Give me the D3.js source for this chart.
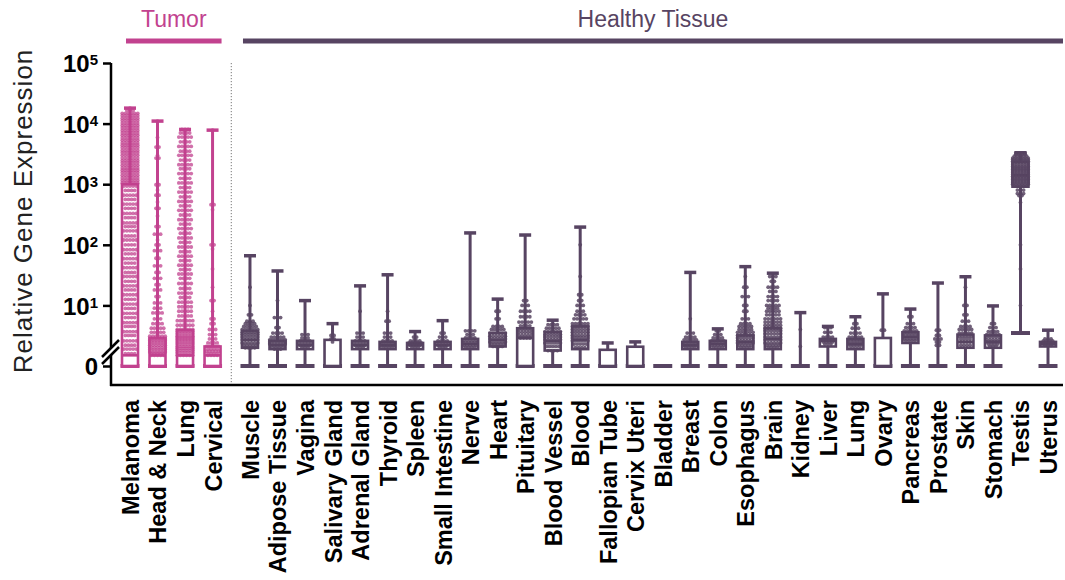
<!DOCTYPE html>
<html><head><meta charset="utf-8">
<script src="https://cdn.jsdelivr.net/npm/d3@7"></script>
<style>
body{margin:0;background:#fff}
svg{display:block}
text{font-family:"Liberation Sans",Arial,Helvetica,sans-serif}
</style>
</head><body>
<svg id="chart" width="1065" height="580"></svg>
<script>
// ---------------- DATA ----------------
const categories = ["Melanoma","Head & Neck","Lung","Cervical",
  "Muscle","Adipose Tissue","Vagina","Salivary Gland","Adrenal Gland","Thyroid","Spleen","Small Intestine",
  "Nerve","Heart","Pituitary","Blood Vessel","Blood","Fallopian Tube","Cervix Uteri","Bladder","Breast",
  "Colon","Esophagus","Brain","Kidney","Liver","Lung","Ovary","Pancreas","Prostate","Skin","Stomach","Testis","Uterus"];
const groupNames = ["Tumor","Healthy Tissue"];
const groupOf = [0,0,0,0, 1,1,1,1,1,1,1,1,1,1,1,1,1,1,1,1,1,1,1,1,1,1,1,1,1,1,1,1,1,1];

const whiskerMin = [0,0,0,0, 0,0,0,0,0,0,0,0,0,0,0,0,0,0,0,0,0,0,0,0,0,0,0,0,0,0,0,0,3.5,0];
const q1Values   = [0,0,0,0, 2.0,1.9,1.9,0,1.9,1.9,1.9,1.9,1.9,2.1,0,1.8,1.9,0,0,0,1.9,1.9,1.9,1.9,0,2.1,1.9,0,2.4,0,2.0,2.0,910,2.1];
const medians    = [1.5,1.5,1.5,1.5, 2.7,2.2,2.2,0,2.2,2.2,2.2,2.2,2.3,2.7,2.9,2.6,2.7,0,0,0,2.2,2.3,2.5,2.8,0,2.6,2.3,0,3.0,0,2.5,2.5,1400,2.3];
const q3Values   = [1000,2.9,3.9,2.1, 3.8,2.6,2.6,2.7,2.6,2.5,2.4,2.5,2.8,3.5,4.2,3.6,4.5,1.85,2.08,0,2.5,2.6,3.2,4.2,0,2.8,2.8,2.9,3.6,0,3.3,3.2,2350,2.5];
const whiskerMax = [18000,11000,8000,7800, 66,37,12,5,21,32,3.7,5.6,157,12.7,145,5.7,196,2.4,2.5,0,35,4.1,43.6,34,7.6,4.5,6.5,15.5,8.7,23.4,29.7,9.8,3300,3.9];

// individual points, read as rows: [value, number of points at that level]
const dotRows = [
  // Melanoma
  [[18000,1],[16500,3],[14800,6],[13500,6],[12300,6],[11200,6],[10200,6],[9300,6],[8500,6],[7700,6],[7000,6],[6400,6],[5800,6],[5300,6],[4800,6],[4400,6],[4000,6],[3600,6],[3300,6],[3000,6],[2700,6],[2450,6],[2250,6],[2050,6],[1850,6],[1700,6],[1550,6],[1400,6],[1270,6],[1150,6],[1050,6],
   [930,5],[790,4],[660,5],[560,4],[470,5],[400,4],[330,5],[280,4],[230,5],[200,4],[170,5],[140,4],[120,5],[100,4],[83,5],[71,4],[59,5],[50,4],[42,5],[35,4],[30,5],[25,4],[21,5],[18,4],[15,5],[12.6,4],[10.5,5],[8.9,4],[7.4,5],[6.3,4],[5.2,5],[4.5,4],[3.7,5],[3.2,4],[2.6,5],[2.2,4],[1.9,5],[1.6,4]],
  // Head & Neck
  [[11000,1],[5900,1],[4100,2],[3000,1],[2700,2],[980,2],[800,1],[660,2],[510,1],[400,2],[300,1],[200,2],[150,3],[120,1],[100,2],[80,3],[60,2],[45,3],[35,2],[28,3],[22,2],[18,3],[14,2],[11,3],[9,3],[7.5,4],[6,3],[5,4],[4.2,5],[3.6,5],[3.1,6],[2.8,6],[2.6,6],[2.4,6],[2.2,6],[2,6],[1.85,6],[1.7,6],[1.6,5],[1.5,5]],
  // Lung (tumor)
  [[8000,3],[7000,4],[6000,5],[5000,4],[4200,5],[3500,4],[3000,5],[2500,4],[2100,5],[1800,4],[1500,5],[1250,4],[1050,5],[880,4],[740,5],[620,4],[520,5],[440,4],[370,5],[310,4],[260,5],[220,4],[185,5],[155,4],[130,5],[110,4],[92,5],[77,4],[65,5],[55,4],[46,5],[39,4],[33,5],[28,4],[23,5],[19,4],[16,5],[13.5,4],[11.3,5],[9.5,5],[8,5],[6.7,5],[5.6,6],[4.7,6],[4,6],[3.7,6],[3.4,6],[3.1,6],[2.9,6],[2.7,6],[2.5,6],[2.3,6],[2.1,6],[1.95,6],[1.8,6],[1.65,6],[1.5,6]],
  // Cervical
  [[7800,1],[460,2],[380,1],[100,2],[85,1],[40,1],[20,1],[12,2],[8,1],[6,2],[5,2],[4,3],[3.3,3],[2.8,3],[2.4,4],[2.1,5],[1.9,4],[1.75,5],[1.6,4],[1.5,4]],
  // Muscle
  [[20,1],[10,1],[7,2],[5.5,3],[5,4],[4.5,5],[4,6],[3.6,6],[3.3,6],[3,6],[2.7,6],[2.4,6],[2.2,5],[2.0,4]],
  // Adipose Tissue
  [[12,1],[6.3,3],[4.3,2],[3.5,4],[3,5],[2.7,6],[2.5,6],[2.3,6],[2.1,5],[1.9,3]],
  // Vagina
  [[3.3,3],[2.9,3],[2.6,4],[2.4,5],[2.2,4],[2,3]],
  // Salivary Gland
  [[3.2,2],[2.8,2],[2.5,1]],
  // Adrenal Gland
  [[8,1],[3.5,3],[3,3],[2.6,4],[2.4,5],[2.2,4],[2,3]],
  // Thyroid
  [[8,1],[5.5,2],[3.5,3],[3,3],[2.6,4],[2.4,5],[2.2,5],[2,4]],
  // Spleen
  [[3,2],[2.6,4],[2.4,5],[2.2,4],[2,3]],
  // Small Intestine
  [[3.5,2],[3,3],[2.6,4],[2.4,5],[2.2,4],[2,3]],
  // Nerve
  [[3.8,4],[3.3,3],[2.9,4],[2.6,5],[2.4,5],[2.2,5],[2,4]],
  // Heart
  [[8,2],[6,2],[4.5,4],[4,5],[3.5,6],[3.1,6],[2.8,6],[2.5,6],[2.3,5],[2.1,4]],
  // Pituitary
  [[12,2],[10,3],[8,4],[6.5,4],[5.3,5],[4.6,4],[4,5],[3.6,5],[3.2,5],[2.9,4]],
  // Blood Vessel
  [[4.8,4],[4.2,5],[3.7,6],[3.3,6],[3,6],[2.7,6],[2.4,6],[2.1,5],[1.8,4]],
  // Blood
  [[100,1],[30,1],[15,2],[12,2],[10,3],[8,3],[7,4],[6,5],[5,6],[4.5,6],[4,6],[3.6,6],[3.2,6],[2.9,6],[2.6,6],[2.3,5],[2,4]],
  // Fallopian Tube
  [],
  // Cervix Uteri
  [],
  // Bladder
  [],
  // Breast
  [[6,1],[3.5,3],[3,4],[2.7,5],[2.4,5],[2.2,5],[2.0,4]],
  // Colon
  [[3.8,2],[3.3,3],[2.9,4],[2.6,5],[2.4,5],[2.2,5],[2,4]],
  // Esophagus
  [[30,1],[20,2],[14,3],[10,2],[8,2],[6,3],[5,4],[4.5,5],[4,5],[3.6,6],[3.2,6],[2.9,6],[2.6,6],[2.4,6],[2.2,5],[2,4]],
  // Brain
  [[30,3],[25,2],[20,4],[17,3],[14,4],[12,4],[10,5],[9,4],[8,5],[7,5],[6,6],[5.3,6],[4.7,6],[4.2,6],[3.8,6],[3.4,6],[3,6],[2.7,6],[2.4,6],[2.2,5],[2.0,4]],
  // Kidney
  [[4,1],[2.1,1]],
  // Liver
  [[4.3,3],[3.6,3],[3,4],[2.7,4],[2.5,4],[2.3,3]],
  // Lung (healthy)
  [[5,2],[4.2,3],[3.5,4],[3,5],[2.7,5],[2.5,5],[2.3,5],[2.1,4]],
  // Ovary
  [[3.9,2]],
  // Pancreas
  [[6.5,2],[5,3],[4.3,4],[3.8,5],[3.4,5],[3.1,5],[2.8,5],[2.6,4]],
  // Prostate
  [[3.9,2],[3.2,2],[2.8,3],[2.5,2],[2.2,2]],
  // Skin
  [[20,1],[10,2],[7,2],[5.5,3],[4.5,4],[4,5],[3.5,5],[3.1,5],[2.8,4],[2.5,4],[2.2,4]],
  // Stomach
  [[5,2],[4.3,3],[3.7,4],[3.3,5],[3,5],[2.7,5],[2.5,5],[2.3,4],[2.1,3]],
  // Testis
  [[3300,4],[3100,4],[2900,5],[2700,6],[2550,6],[2400,6],[2250,6],[2100,6],[1950,6],[1850,6],[1750,6],[1650,6],[1550,6],[1450,6],[1350,6],[1270,6],[1200,6],[1130,6],[1060,6],[1000,6],[940,5],[800,3],[700,3],[650,2],[500,1],[100,1],[40,1],[10,1]],
  // Uterus
  [[2.8,3],[2.6,4],[2.4,4],[2.2,3]]
];

const yTickValues = [1, 10, 100, 1000, 10000, 100000];
const yTickBase   = ["0", "10", "10", "10", "10", "10"];
const yTickExp    = ["", "1", "2", "3", "4", "5"];
const yAxisTitle = "Relative Gene Expression";

// ---------------- STYLE / LAYOUT ----------------
const colors = ["#c2428f", "#574462"];
const dotOpacity = [0.75, 0.85];
const svg = d3.select("#chart");
const axisX = 111, axisBottom = 385, axisRight = 1063;

const y = d3.scaleLog().domain([1, 1e5]).range([366, 63]);
const yv = v => y(Math.max(v, 1));

// category index -> position, with a small gap between the two groups
const idx = d3.scaleLinear().domain([0, 33.36]).range([130, 1048]);
const positions = categories.map((c, i) => idx(i + (groupOf[i] === 1 ? 0.36 : 0)));
const x = d3.scaleOrdinal().domain(d3.range(categories.length)).range(positions);

// group headers
const firstOf = g => groupOf.indexOf(g), lastOf = g => groupOf.lastIndexOf(g);
const headers = [
  {g:0, x0: x(firstOf(0)) - 4, x1: x(lastOf(0)) + 9},
  {g:1, x0: x(firstOf(1)) - 7, x1: axisRight}
];
headers.forEach(h => {
  svg.append("line").attr("x1", h.x0).attr("x2", h.x1).attr("y1", 41).attr("y2", 41)
    .attr("stroke", colors[h.g]).attr("stroke-width", 5);
  svg.append("text").attr("x", (h.x0 + h.x1) / 2).attr("y", 27)
    .attr("text-anchor", "middle").attr("font-size", 23).attr("fill", colors[h.g])
    .text(groupNames[h.g]);
});

// dotted separator
const sepX = (x(lastOf(0)) + x(firstOf(1))) / 2;
svg.append("line").attr("x1", sepX).attr("x2", sepX).attr("y1", 63).attr("y2", axisBottom)
  .attr("stroke", "#777").attr("stroke-width", 1).attr("stroke-dasharray", "1.2,1.8");

// y axis
const yAxis = d3.axisLeft(y).tickValues(yTickValues).tickSize(8).tickFormat("");
const gy = svg.append("g").attr("transform", `translate(${axisX},0)`).call(yAxis);
gy.select(".domain").remove();
gy.selectAll(".tick line").attr("stroke", "#000").attr("stroke-width", 2.5);
gy.selectAll(".tick").each(function(d, i) {
  const t = d3.select(this).append("text").attr("x", -13).attr("dy", "0.36em")
    .attr("text-anchor", "end").attr("fill", "#000").attr("font-weight", "bold")
    .attr("font-size", 24);
  t.append("tspan").text(yTickBase[i]);
  if (yTickExp[i]) t.append("tspan").attr("dy", "-0.45em").attr("font-size", 15).text(yTickExp[i]);
});
svg.append("line").attr("x1", axisX).attr("x2", axisX).attr("y1", 63).attr("y2", axisBottom + 1)
  .attr("stroke", "#000").attr("stroke-width", 2.5);
// axis break
svg.append("polygon").attr("points", "100,359 120,339 120,346 100,366").attr("fill", "#fff");
svg.append("line").attr("x1", 102).attr("y1", 357).attr("x2", 119).attr("y2", 340).attr("stroke", "#000").attr("stroke-width", 2.5);
svg.append("line").attr("x1", 102).attr("y1", 364).attr("x2", 119).attr("y2", 347).attr("stroke", "#000").attr("stroke-width", 2.5);

svg.append("text").attr("transform", `translate(32,211) rotate(-90)`)
  .attr("text-anchor", "middle").attr("font-size", 26).attr("letter-spacing", 1)
  .attr("fill", "#222").text(yAxisTitle);

// x axis
const xAxis = d3.axisBottom(x).tickValues(d3.range(categories.length)).tickSize(0)
  .tickFormat(i => categories[i]);
const gx = svg.append("g").attr("transform", `translate(0,${axisBottom})`).call(xAxis);
gx.select(".domain").remove();
gx.selectAll(".tick text").attr("transform", "rotate(-90)").attr("text-anchor", "end")
  .attr("x", -15).attr("y", 0).attr("dy", "0.36em").attr("fill", "#000")
  .attr("font-weight", "bold").attr("font-size", 23.5).style("font-family", '"Liberation Sans",Arial,sans-serif');
svg.append("line").attr("x1", axisX - 1).attr("x2", axisRight).attr("y1", axisBottom).attr("y2", axisBottom)
  .attr("stroke", "#000").attr("stroke-width", 2.5);

// boxes
const boxW = 16, capTop = 12, capBottom = 19;
const plot = svg.append("g");
categories.forEach((c, i) => {
  const cx = x(i), col = colors[groupOf[i]];
  const g = plot.append("g");
  // whiskers
  g.append("line").attr("x1", cx).attr("x2", cx).attr("y1", yv(q3Values[i])).attr("y2", yv(whiskerMax[i]))
    .attr("stroke", col).attr("stroke-width", 3);
  g.append("line").attr("x1", cx).attr("x2", cx).attr("y1", yv(q1Values[i])).attr("y2", yv(whiskerMin[i]))
    .attr("stroke", col).attr("stroke-width", 3);
  if (whiskerMax[i] > 0)
    g.append("line").attr("x1", cx - capTop/2).attr("x2", cx + capTop/2)
      .attr("y1", yv(whiskerMax[i])).attr("y2", yv(whiskerMax[i])).attr("stroke", col).attr("stroke-width", 3.5);
  g.append("line").attr("x1", cx - capBottom/2).attr("x2", cx + capBottom/2)
    .attr("y1", yv(whiskerMin[i])).attr("y2", yv(whiskerMin[i])).attr("stroke", col).attr("stroke-width", 4);
  // box
  const top = yv(q3Values[i]), bot = yv(q1Values[i]);
  if (bot - top > 1) {
    g.append("rect").attr("x", cx - boxW/2).attr("y", top).attr("width", boxW).attr("height", bot - top)
      .attr("fill", "#fff").attr("stroke", col).attr("stroke-width", 2.6);
    if (medians[i] > 1)
      g.append("line").attr("x1", cx - boxW/2).attr("x2", cx + boxW/2)
        .attr("y1", yv(medians[i])).attr("y2", yv(medians[i])).attr("stroke", col).attr("stroke-width", 2.6);
  }
  // points
  const pts = [];
  dotRows[i].forEach(([v, n]) => {
    for (let k = 0; k < n; k++) pts.push({v, off: (k - (n - 1) / 2) * 3.1});
  });
  g.selectAll("circle").data(pts).join("circle")
    .attr("cx", d => cx + d.off).attr("cy", d => yv(d.v)).attr("r", 1.9)
    .attr("fill", col).attr("fill-opacity", dotOpacity[groupOf[i]]);
});
</script>
</body></html>
